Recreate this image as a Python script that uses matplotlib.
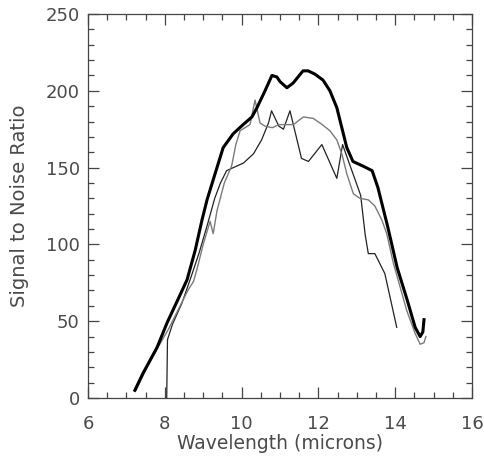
import matplotlib
matplotlib.use("Agg")
import matplotlib.pyplot as plt
from matplotlib.ticker import MultipleLocator

# thick curve
thick_x = [7.22, 7.43, 7.8, 8.06, 8.34, 8.58, 8.79, 8.97, 9.1, 9.26, 9.52, 9.78, 10.04, 10.27,
           10.4, 10.61, 10.79, 10.92, 11.0, 11.18, 11.34, 11.6, 11.73, 11.9, 12.12, 12.3, 12.48,
           12.61, 12.74, 12.9, 13.16, 13.4, 13.55, 13.68, 13.81, 14.05, 14.31, 14.52, 14.65,
           14.72, 14.75]
thick_y = [5, 16, 33, 49, 64, 77, 96, 116, 129, 142, 163, 172, 178, 183,
           189, 200, 210, 209, 206, 202, 205, 213, 213, 211, 207, 200, 189,
           176, 163, 154, 151, 148, 137, 124, 111, 85, 64, 46, 40,
           43, 51]

# gray curve
gray_x = [7.25, 7.5, 7.8, 8.1, 8.4, 8.6, 8.75, 8.85, 9.0, 9.18, 9.26, 9.36, 9.55, 9.74, 9.85,
          9.96, 10.22, 10.35, 10.48, 10.61, 10.8, 10.97, 11.35, 11.61, 11.87, 12.1, 12.3,
          12.48, 12.61, 12.74, 12.91, 13.08, 13.3, 13.47, 13.65, 13.78, 13.95, 14.3, 14.52,
          14.65, 14.75, 14.8]
gray_y = [5, 18, 32, 45, 60, 70, 76, 85, 100, 115, 107, 122, 140, 151, 165,
          174, 178, 194, 179, 177, 176, 178, 178, 183, 182, 178, 174,
          168, 159, 146, 133, 130, 129, 125, 116, 107, 88, 57, 42,
          35, 36, 40]

# thin black curve
thin_x = [8.05, 8.07, 8.2, 8.45, 8.7, 8.9, 9.1, 9.3, 9.45, 9.61, 10.05, 10.31, 10.52, 10.7,
          10.78, 10.97, 11.09, 11.26, 11.56, 11.74, 12.09, 12.48, 12.63, 13.1, 13.22, 13.3,
          13.47, 13.73, 14.04]
thin_y = [0, 38, 48, 62, 80, 95, 112, 130, 140, 148, 153, 159, 168, 179,
          187, 177, 175, 187, 156, 154, 165, 143, 165, 132, 106, 94,
          94, 81, 46]

TEXT = "#4a4a4a"

fig = plt.figure(figsize=(4.84, 4.58), dpi=100)
ax = fig.add_axes([0.1818, 0.131, 0.7934, 0.8384])

ax.plot(thin_x, thin_y, color="#222222", linewidth=0.9)
ax.plot(gray_x, gray_y, color="#7a7a7a", linewidth=1.0)
ax.plot(thick_x, thick_y, color="black", linewidth=2.2)

ax.set_xlim(6, 16)
ax.set_ylim(0, 250)
ax.xaxis.set_major_locator(MultipleLocator(2))
ax.xaxis.set_minor_locator(MultipleLocator(0.5))
ax.yaxis.set_major_locator(MultipleLocator(50))
ax.yaxis.set_minor_locator(MultipleLocator(10))
ax.tick_params(which="both", direction="in", top=True, right=True, colors="#444444",
               labelcolor=TEXT, labelsize=13)
ax.tick_params(which="major", length=8, width=0.9)
ax.tick_params(which="minor", length=4, width=0.9)
ax.tick_params(axis="x", which="major", pad=12)
ax.tick_params(axis="y", which="major", pad=6)
for spine in ax.spines.values():
    spine.set_color("#444444")
    spine.set_linewidth(0.9)

ax.set_xlabel("Wavelength (microns)", fontsize=13.5, color=TEXT, labelpad=1)
ax.set_ylabel("Signal to Noise Ratio", fontsize=14, color=TEXT, labelpad=12)

fig.savefig("out.png", dpi=100)
